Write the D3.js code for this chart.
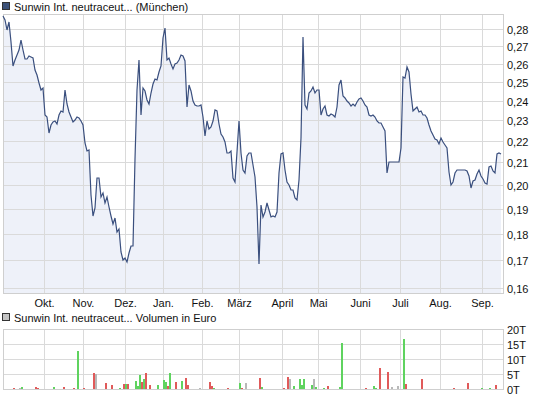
<!DOCTYPE html>
<html><head><meta charset="utf-8">
<script src="https://cdn.jsdelivr.net/npm/d3@7"></script>
<style>
body{margin:0;background:#fff}
svg{display:block}
text{font-family:"Liberation Sans",Arial,sans-serif;font-size:11px;fill:#111}
</style>
</head><body><svg id="c" width="545" height="398"></svg>
<script>
const priceLabel = "Sunwin Int. neutraceut... (München)";
const volumeLabel = "Sunwin Int. neutraceut... Volumen in Euro";

const prices = [
0.288,0.2857,0.2798,0.2845,0.2723,0.2586,0.262,0.265,0.2678,0.2735,
0.2678,0.2624,0.2624,0.2641,0.2636,0.263,0.2565,0.2536,0.2493,0.2456,
0.2467,0.2328,0.2317,0.2239,0.2278,0.2293,0.2298,0.2283,0.2325,0.2347,
0.2343,0.2456,0.2384,0.234,0.2318,0.2289,0.2301,0.2317,0.231,0.2298,
0.2278,0.2188,0.2153,0.2158,0.1957,0.1868,0.1903,0.2032,0.203,0.1949,
0.1966,0.1924,0.1949,0.1908,0.1868,0.1836,0.186,0.1808,0.1816,0.1731,
0.1701,0.1708,0.1694,0.1726,0.1753,0.1753,0.2113,0.2456,0.262,0.2328,
0.2467,0.2451,0.2403,0.2384,0.2441,0.2488,0.2514,0.2509,0.2553,0.2586,
0.2748,0.2808,0.262,0.263,0.2597,0.257,0.2597,0.2602,0.262,0.265,
0.2644,0.2614,0.2366,0.2483,0.2451,0.2398,0.2378,0.2373,0.2373,0.2378,
0.2317,0.2222,0.2294,0.2258,0.2268,0.2298,0.2352,0.2347,0.2283,0.2234,
0.2216,0.2194,0.2145,0.2145,0.215,0.203,0.2013,0.2149,0.2298,0.2145,
0.2066,0.2053,0.2127,0.2141,0.2141,0.2088,0.2036,0.1908,0.1686,0.1916,
0.1865,0.1888,0.1924,0.1895,0.1865,0.1868,0.1865,0.1888,0.2053,0.2137,
0.2145,0.2066,0.2013,0.2,0.1978,0.1978,0.1944,0.1936,0.2023,0.2212,
0.2755,0.2378,0.2358,0.2441,0.2451,0.2472,0.2441,0.2456,0.2456,0.2326,
0.2358,0.2371,0.2328,0.232,0.2333,0.2328,0.2317,0.2368,0.2483,0.2509,
0.2425,0.2415,0.2398,0.2388,0.2373,0.2382,0.2373,0.2393,0.2408,0.2413,
0.2398,0.2378,0.2366,0.2328,0.232,0.2324,0.2315,0.2297,0.2285,0.2285,
0.2268,0.2247,0.2052,0.21,0.21,0.21,0.21,0.21,0.21,0.2165,
0.2527,0.2521,0.258,0.2553,0.2433,0.2347,0.2358,0.2366,0.2343,0.2347,
0.2328,0.2328,0.231,0.2278,0.2245,0.2229,0.2208,0.2203,0.2185,0.2212,
0.2194,0.218,0.2166,0.2058,0.2,0.2013,0.2053,0.2066,0.2066,0.2066,
0.2066,0.2066,0.2062,0.204,0.1987,0.2018,0.2023,0.2049,0.2066,0.204,
0.2025,0.2009,0.2004,0.2079,0.2083,0.2062,0.2053,0.2137,0.2141,0.2137
];

const monthLabels = ["Okt.","Nov.","Dez.","Jan.","Feb.","März","April","Mai","Juni","Juli","Aug.","Sep."];
const monthStarts = [20.5,40,61,80,99.5,118,139.5,157.5,178.5,198.5,218.5,239.5];

const priceTicks = [0.16,0.17,0.18,0.19,0.20,0.21,0.22,0.23,0.24,0.25,0.26,0.27,0.28];
const volumeTicks = [0,5000,10000,15000,20000];
const volumeTickLabels = ["0T","5T","10T","15T","20T"];

const volumeDays = [5,8,9,16,17,25,30,35,37,40,45,46,51,54,58,60,61,62,66,67,68,69,70,71,73,77,80,81,82,83,86,89,91,92,98,103,104,105,112,118,119,121,128,129,140,142,143,145,148,149,150,154,155,156,160,162,168,169,181,185,186,188,192,194,197,200,201,209,225,232,239,243,246];
const volumeValues = [400,300,700,700,400,700,700,300,12800,300,5400,5100,2100,1400,400,1800,1800,1800,2800,1100,4800,2400,3400,5400,1400,1400,3100,2400,1100,5400,2400,2800,3800,1400,400,2400,1100,400,400,2100,400,2100,3800,700,400,4100,3400,1100,3400,1400,3400,1400,3400,800,400,1100,700,15500,400,1100,400,7100,5800,700,1100,16800,1800,3400,400,2100,400,400,1400];
const volumeDir = ["r","n","g","r","r","g","r","r","g","r","r","n","r","r","g","r","g","r","g","g","g","r","g","r","r","g","g","g","r","g","r","g","r","r","n","r","r","g","r","g","r","n","r","g","r","r","n","g","g","g","g","g","n","g","g","r","g","g","r","g","g","r","r","n","n","g","r","r","r","r","g","g","r"];

const dirColor = {g:"#5fd35f", r:"#e05a5a", n:"#b8b8b8"};
const gridColor = "#dadada";

const svg = d3.select("#c");
const L = 3, R = 503, T = 14, B = 293;
const VT = 329, VB = 389;

const x = d3.scaleLinear().domain([0, prices.length - 1]).range([3, 501]).interpolate(d3.interpolateRound);
const y = d3.scaleLog().domain([0.1583, 0.2894]).range([B, T]).interpolate(d3.interpolateRound);
const yv = d3.scaleLinear().domain([0, 20000]).range([VB, VT]).interpolate(d3.interpolateRound);

function legend(yy, fill, label) {
  svg.append("rect").attr("x", 2.5).attr("y", yy - 6.5).attr("width", 7).attr("height", 7)
    .attr("fill", fill).attr("stroke", "#333").attr("stroke-width", 1);
  svg.append("text").attr("x", 14).attr("y", yy + 1.5).text(label);
}
legend(9, "#3d5279", priceLabel);
legend(320, "#c4c4c4", volumeLabel);

const area = d3.area().x((d, i) => x(i)).y0(B).y1(d => y(d));
svg.append("path").datum(prices).attr("d", area).attr("fill", "#eef1f9");

const yAxis = d3.axisRight(y).tickValues(priceTicks).tickSize(-(R - L))
  .tickPadding(4).tickFormat(d => d3.format(".2f")(d).replace(".", ","));
const gy = svg.append("g").attr("transform", `translate(${R},0)`).call(yAxis);
gy.select(".domain").remove();
gy.selectAll("line").attr("stroke", gridColor);
gy.selectAll("text").attr("fill", "#111").style("font-size", "11px")
  .style("font-family", '"Liberation Sans",Arial,sans-serif').attr("dy", "0.42em");

const xAxis = d3.axisBottom(x).tickValues(monthStarts).tickSize(-(B - T))
  .tickPadding(6).tickFormat((d, i) => monthLabels[i]);
const gx = svg.append("g").attr("transform", `translate(0,${B})`).call(xAxis);
gx.select(".domain").remove();
gx.selectAll("line").attr("stroke", gridColor);
gx.selectAll("text").attr("fill", "#111").style("font-size", "11px")
  .style("font-family", '"Liberation Sans",Arial,sans-serif');

svg.append("rect").attr("x", L + 0.5).attr("y", T + 0.5).attr("width", R - L).attr("height", B - T)
  .attr("fill", "none").attr("stroke", "#cfcfcf");

const line = d3.line().x((d, i) => x(i)).y(d => y(d));
svg.append("path").datum(prices).attr("d", line).attr("fill", "none")
  .attr("stroke", "#3a4f7e").attr("stroke-width", 1.2);

const vAxis = d3.axisRight(yv).tickValues(volumeTicks).tickSize(-(R - L))
  .tickPadding(4).tickFormat((d, i) => volumeTickLabels[i]);
const gv = svg.append("g").attr("transform", `translate(${R},0)`).call(vAxis);
gv.select(".domain").remove();
gv.selectAll("line").attr("stroke", gridColor);
gv.selectAll("text").attr("fill", "#111").style("font-size", "11px")
  .style("font-family", '"Liberation Sans",Arial,sans-serif').attr("dy", "0.42em");

const vxAxis = d3.axisBottom(x).tickValues(monthStarts).tickSize(-(VB - VT)).tickFormat("");
const gvx = svg.append("g").attr("transform", `translate(0,${VB})`).call(vxAxis);
gvx.select(".domain").remove();
gvx.selectAll("line").attr("stroke", gridColor);

svg.append("rect").attr("x", L + 0.5).attr("y", VT + 0.5).attr("width", R - L).attr("height", VB - VT)
  .attr("fill", "none").attr("stroke", "#cfcfcf");

svg.append("g").attr("shape-rendering", "crispEdges")
  .selectAll("rect.bar").data(volumeDays).join("rect")
  .attr("class", "bar")
  .attr("x", d => x(d))
  .attr("width", 2)
  .attr("y", (d, i) => yv(volumeValues[i]))
  .attr("height", (d, i) => VB - yv(volumeValues[i]))
  .style("fill", (d, i) => dirColor[volumeDir[i]]);
</script>
</body></html>
